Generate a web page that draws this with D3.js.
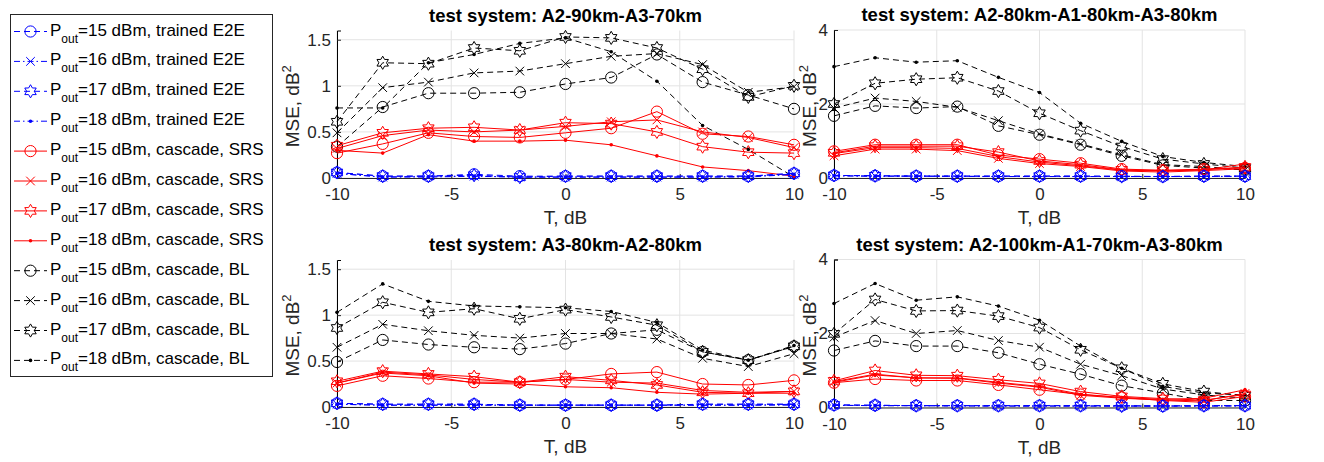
<!DOCTYPE html>
<html>
<head>
<meta charset="utf-8">
<script src="https://cdn.jsdelivr.net/npm/d3@7"></script>
<style>
  body { margin: 0; background: #fff; }
  text { font-family: "Liberation Sans", Arial, sans-serif; fill: #262626; }
</style>
</head>
<body>
<div id="chart"></div>
<script>
// x values (T, dB)
const T = [-10, -8, -6, -4, -2, 0, 2, 4, 6, 8, 10];
const powers = [15, 16, 17, 18];

// panel titles
const titles = [
  "test system: A2-90km-A3-70km",
  "test system: A2-80km-A1-80km-A3-80km",
  "test system: A3-80km-A2-80km",
  "test system: A2-100km-A1-70km-A3-80km"
];

// y tick labels per panel
const yTicks1 = [0, 0.5, 1, 1.5];
const yTicks2 = [0, 2, 4];
const xTicks = [-10, -5, 0, 5, 10];

// panel 1: A2-90km-A3-70km (rows = Pout 15,16,17,18 dBm)
const p1_E2E = [
  [0.06, 0.02, 0.02, 0.04, 0.02, 0.02, 0.02, 0.02, 0.02, 0.02, 0.05],
  [0.05, 0.01, 0.02, 0.02, 0.01, 0.01, 0.01, 0.01, 0.01, 0.02, 0.04],
  [0.06, 0.02, 0.02, 0.03, 0.01, 0.02, 0.02, 0.02, 0.02, 0.02, 0.05],
  [0.05, 0.01, 0.01, 0.02, 0.01, 0.01, 0.01, 0.01, 0.01, 0.01, 0.04]
];
const p1_SRS = [
  [0.27, 0.37, 0.49, 0.45, 0.44, 0.49, 0.54, 0.72, 0.48, 0.45, 0.36],
  [0.32, 0.46, 0.52, 0.50, 0.52, 0.56, 0.61, 0.63, 0.50, 0.44, 0.33],
  [0.35, 0.49, 0.54, 0.55, 0.52, 0.60, 0.59, 0.50, 0.34, 0.28, 0.27],
  [0.30, 0.27, 0.47, 0.40, 0.40, 0.41, 0.36, 0.24, 0.12, 0.08, 0.02]
];
const p1_BL = [
  [0.34, 0.77, 0.92, 0.92, 0.93, 1.02, 1.09, 1.34, 1.04, 0.90, 0.75],
  [0.49, 0.98, 1.04, 1.14, 1.16, 1.24, 1.32, 1.35, 1.23, 0.93, 0.99],
  [0.61, 1.25, 1.24, 1.41, 1.38, 1.53, 1.52, 1.41, 1.18, 0.88, 1.00],
  [0.76, 0.76, 1.25, 1.34, 1.46, 1.52, 1.37, 1.05, 0.57, 0.31, 0.01]
];

// panel 2: A2-80km-A1-80km-A3-80km
const p2_E2E = [
  [0.07, 0.06, 0.05, 0.05, 0.05, 0.05, 0.05, 0.05, 0.04, 0.05, 0.05],
  [0.06, 0.05, 0.05, 0.05, 0.04, 0.04, 0.04, 0.04, 0.04, 0.04, 0.05],
  [0.07, 0.06, 0.05, 0.05, 0.05, 0.05, 0.05, 0.04, 0.04, 0.05, 0.05],
  [0.06, 0.05, 0.05, 0.04, 0.04, 0.04, 0.04, 0.04, 0.04, 0.04, 0.04]
];
const p2_SRS = [
  [0.72, 0.90, 0.90, 0.90, 0.62, 0.51, 0.40, 0.24, 0.21, 0.24, 0.27],
  [0.60, 0.78, 0.78, 0.74, 0.53, 0.39, 0.31, 0.19, 0.16, 0.20, 0.25],
  [0.68, 0.86, 0.86, 0.86, 0.70, 0.46, 0.36, 0.22, 0.20, 0.22, 0.30],
  [0.66, 0.82, 0.82, 0.80, 0.58, 0.43, 0.33, 0.21, 0.19, 0.22, 0.38]
];
const p2_BL = [
  [1.68, 1.95, 1.89, 1.93, 1.41, 1.17, 0.90, 0.60, 0.34, 0.27, 0.22],
  [1.89, 2.16, 2.07, 1.91, 1.55, 1.19, 0.92, 0.63, 0.36, 0.31, 0.22],
  [2.00, 2.56, 2.67, 2.71, 2.35, 1.75, 1.28, 0.85, 0.51, 0.38, 0.27],
  [3.01, 3.25, 3.13, 3.17, 2.72, 2.31, 1.48, 0.99, 0.58, 0.42, 0.31]
];

// panel 3: A3-80km-A2-80km
const p3_E2E = [
  [0.04, 0.03, 0.03, 0.03, 0.02, 0.02, 0.02, 0.02, 0.03, 0.03, 0.03],
  [0.03, 0.02, 0.02, 0.02, 0.02, 0.02, 0.02, 0.02, 0.02, 0.02, 0.03],
  [0.04, 0.03, 0.03, 0.03, 0.02, 0.02, 0.02, 0.02, 0.03, 0.03, 0.03],
  [0.03, 0.02, 0.02, 0.02, 0.02, 0.02, 0.02, 0.02, 0.02, 0.02, 0.02]
];
const p3_SRS = [
  [0.23, 0.34, 0.31, 0.27, 0.27, 0.30, 0.36, 0.38, 0.25, 0.24, 0.29],
  [0.26, 0.38, 0.35, 0.30, 0.27, 0.30, 0.27, 0.26, 0.18, 0.16, 0.17],
  [0.28, 0.39, 0.36, 0.33, 0.27, 0.33, 0.29, 0.24, 0.16, 0.15, 0.17],
  [0.26, 0.37, 0.34, 0.26, 0.25, 0.22, 0.21, 0.16, 0.14, 0.15, 0.15]
];
const p3_BL = [
  [0.49, 0.73, 0.68, 0.65, 0.63, 0.69, 0.80, 0.84, 0.60, 0.51, 0.66],
  [0.65, 0.90, 0.83, 0.78, 0.75, 0.80, 0.80, 0.74, 0.53, 0.44, 0.58],
  [0.86, 1.14, 1.03, 1.07, 0.96, 1.06, 0.98, 0.89, 0.60, 0.51, 0.66],
  [1.03, 1.34, 1.15, 1.10, 1.09, 1.08, 1.04, 0.92, 0.62, 0.51, 0.67]
];

// panel 4: A2-100km-A1-70km-A3-80km
const p4_E2E = [
  [0.07, 0.06, 0.05, 0.05, 0.05, 0.05, 0.05, 0.05, 0.04, 0.05, 0.05],
  [0.06, 0.05, 0.05, 0.05, 0.04, 0.04, 0.04, 0.04, 0.04, 0.04, 0.05],
  [0.07, 0.06, 0.05, 0.05, 0.05, 0.05, 0.05, 0.04, 0.04, 0.05, 0.05],
  [0.06, 0.05, 0.05, 0.04, 0.04, 0.04, 0.04, 0.04, 0.04, 0.04, 0.04]
];
const p4_SRS = [
  [0.67, 0.77, 0.73, 0.73, 0.61, 0.48, 0.35, 0.27, 0.19, 0.14, 0.30],
  [0.70, 0.90, 0.80, 0.79, 0.66, 0.55, 0.33, 0.25, 0.20, 0.18, 0.38],
  [0.72, 1.00, 0.87, 0.86, 0.75, 0.65, 0.43, 0.30, 0.24, 0.20, 0.35],
  [0.68, 0.88, 0.80, 0.80, 0.68, 0.57, 0.36, 0.27, 0.22, 0.25, 0.48]
];
const p4_BL = [
  [1.54, 1.80, 1.66, 1.66, 1.48, 1.17, 0.90, 0.59, 0.39, 0.19, 0.19],
  [1.90, 2.35, 2.00, 2.08, 1.81, 1.63, 1.17, 0.86, 0.50, 0.34, 0.25],
  [1.99, 2.92, 2.61, 2.62, 2.47, 2.16, 1.56, 1.06, 0.64, 0.43, 0.32],
  [2.81, 3.35, 2.90, 2.99, 2.74, 2.36, 1.66, 1.06, 0.57, 0.39, 0.34]
];

// styles for each method / power
const markers = ["o", "x", "h", "."];
const methods = [
  { key: "E2E", label: "trained E2E", color: "#0000ff", dash: ["6,4", "6,3,1.5,3", "6,4", "6,3,1.5,3"] },
  { key: "SRS", label: "cascade, SRS", color: "#ff0000", dash: [null, null, null, null] },
  { key: "BL", label: "cascade, BL", color: "#000000", dash: ["6,4", "6,4", "6,4", "6,4"] }
];

const panels = [
  { title: titles[0], E2E: p1_E2E, SRS: p1_SRS, BL: p1_BL, ymax: 1.6, ticks: yTicks1, labOff: 38, x0: 337, x1: 794, y0: 178, y1: 30.5 },
  { title: titles[1], E2E: p2_E2E, SRS: p2_SRS, BL: p2_BL, ymax: 4, ticks: yTicks2, labOff: 18, x0: 834, x1: 1245, y0: 178, y1: 30 },
  { title: titles[2], E2E: p3_E2E, SRS: p3_SRS, BL: p3_BL, ymax: 1.6, ticks: yTicks1, labOff: 38, x0: 337, x1: 794, y0: 407, y1: 260 },
  { title: titles[3], E2E: p4_E2E, SRS: p4_SRS, BL: p4_BL, ymax: 4, ticks: yTicks2, labOff: 18, x0: 834, x1: 1245, y0: 407.5, y1: 259.5 }
];

const svg = d3.select("#chart").append("svg")
  .attr("width", 1324)
  .attr("height", 462);

// hexagram outline
function hexPath(R) {
  const r = R / Math.sqrt(3);
  const pts = [];
  for (let i = 0; i < 12; i++) {
    const a = -Math.PI / 2 + i * Math.PI / 6;
    const rr = i % 2 === 0 ? R : r;
    pts.push([rr * Math.cos(a), rr * Math.sin(a)]);
  }
  return "M" + pts.map(p => p[0].toFixed(2) + "," + p[1].toFixed(2)).join("L") + "Z";
}

function drawMarker(g, type, x, y, color) {
  if (type === "o") {
    g.append("circle").attr("cx", x).attr("cy", y).attr("r", 5.6)
      .attr("fill", "none").attr("stroke", color).attr("stroke-width", 1);
  } else if (type === "x") {
    const s = 4.3;
    g.append("path")
      .attr("d", `M${x - s},${y - s}L${x + s},${y + s}M${x - s},${y + s}L${x + s},${y - s}`)
      .attr("stroke", color).attr("stroke-width", 1).attr("fill", "none");
  } else if (type === "h") {
    g.append("path").attr("d", hexPath(6.6)).attr("transform", `translate(${x},${y})`)
      .attr("fill", "none").attr("stroke", color).attr("stroke-width", 1);
  } else {
    g.append("circle").attr("cx", x).attr("cy", y).attr("r", 1.8).attr("fill", color);
  }
}

panels.forEach(p => {
  const xScale = d3.scaleLinear().domain([-10, 10]).range([p.x0, p.x1]);
  const yScale = d3.scaleLinear().domain([0, p.ymax]).range([p.y0, p.y1]);
  const g = svg.append("g");

  // grid
  g.append("g").selectAll("line").data(xTicks).join("line")
    .attr("x1", d => xScale(d)).attr("x2", d => xScale(d))
    .attr("y1", p.y0).attr("y2", p.y1)
    .attr("stroke", "#e3e3e3").attr("stroke-width", 1);
  g.append("g").selectAll("line").data(p.ticks).join("line")
    .attr("x1", p.x0).attr("x2", p.x1)
    .attr("y1", d => yScale(d)).attr("y2", d => yScale(d))
    .attr("stroke", "#e3e3e3").attr("stroke-width", 1);

  // axes
  const xAxis = g.append("g").attr("transform", `translate(0,${p.y0})`)
    .call(d3.axisBottom(xScale).tickValues(xTicks).tickSize(-4).tickPadding(10).tickFormat(d3.format("d")));
  const yAxis = g.append("g").attr("transform", `translate(${p.x0},0)`)
    .call(d3.axisLeft(yScale).tickValues(p.ticks).tickSize(-4).tickPadding(6).tickFormat(d => d));
  [xAxis, yAxis].forEach(a => {
    a.attr("font-size", 17);
    a.select(".domain").attr("stroke", "#262626");
    a.selectAll(".tick line").attr("stroke", "#262626");
    a.selectAll("text").attr("font-size", 17).attr("fill", "#262626")
      .style("font-family", "'Liberation Sans', Arial, sans-serif");
  });
  xAxis.selectAll("text").text(d => d < 0 ? "-" + Math.abs(d) : d);
  yAxis.select(".domain").attr("stroke", "#000");

  // series
  const line = d3.line().x((d, i) => xScale(T[i])).y(d => yScale(d));
  const drawOrder = ["BL", "SRS", "E2E"];
  drawOrder.forEach(k => {
    const m = methods.find(mm => mm.key === k);
    p[k].forEach((vals, j) => {
      g.append("path").datum(vals).attr("d", line)
        .attr("fill", "none").attr("stroke", m.color).attr("stroke-width", 1)
        .attr("stroke-dasharray", m.dash[j]);
      vals.forEach((v, i) => drawMarker(g, markers[j], xScale(T[i]), yScale(v), m.color));
    });
  });

  // labels
  const cx = (p.x0 + p.x1) / 2;
  g.append("text").attr("x", cx).attr("y", p.y1 - 9)
    .attr("text-anchor", "middle").attr("font-size", 18.5).attr("font-weight", "bold")
    .style("fill", "#000").text(p.title);
  g.append("text").attr("x", cx).attr("y", p.y0 + 46)
    .attr("text-anchor", "middle").attr("font-size", 19).text("T, dB");
  const yl = g.append("text")
    .attr("transform", `translate(${p.x0 - p.labOff},${(p.y0 + p.y1) / 2 + 2}) rotate(-90)`)
    .attr("text-anchor", "middle").attr("font-size", 19);
  yl.append("tspan").text("MSE, dB");
  yl.append("tspan").attr("dy", -8).attr("font-size", 13).text("2");
});

// legend
const leg = svg.append("g");
leg.append("rect").attr("x", 10.5).attr("y", 14.5).attr("width", 262).attr("height", 362)
  .attr("fill", "#fff").attr("stroke", "#262626").attr("stroke-width", 1);
let row = 0;
methods.forEach(m => {
  powers.forEach((pw, j) => {
    const y = 31.5 + row * 29.9;
    leg.append("line").attr("x1", 14).attr("x2", 47).attr("y1", y).attr("y2", y)
      .attr("stroke", m.color).attr("stroke-width", 1).attr("stroke-dasharray", m.dash[j]);
    drawMarker(leg, markers[j], 30.5, y, m.color);
    const t = leg.append("text").attr("x", 50).attr("y", y + 4).attr("font-size", 17).style("fill", "#000");
    t.append("tspan").text("P");
    t.append("tspan").attr("dy", 7).attr("font-size", 12).text("out");
    t.append("tspan").attr("dy", -7).text(`=${pw} dBm, ${m.label}`);
    row++;
  });
});
</script>
</body>
</html>
